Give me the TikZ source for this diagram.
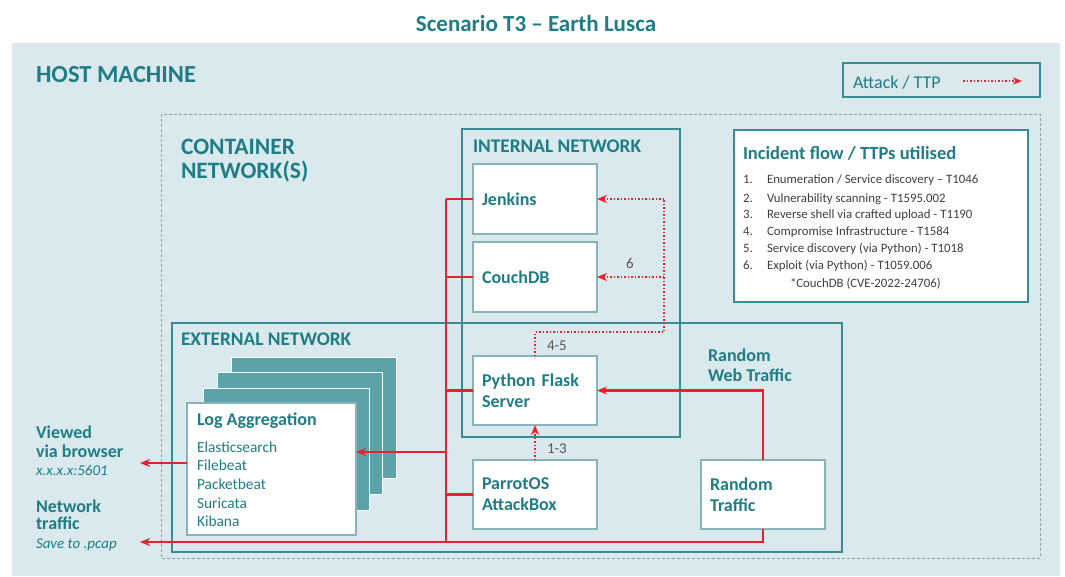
\documentclass[tikz,border=0pt]{standalone}
\usepackage{fontspec}
\setmainfont{Carlito}
\usetikzlibrary{arrows.meta,calc}
\definecolor{tealtxt}{HTML}{1F7D85}
\definecolor{tealline}{HTML}{3A8C93}
\definecolor{bgc}{HTML}{DAE9ED}
\definecolor{stackc}{HTML}{5BA3A9}
\definecolor{redc}{HTML}{E8222C}
\definecolor{dashc}{HTML}{8FA1A6}
\definecolor{boxline}{HTML}{88B4B9}
\definecolor{listc}{HTML}{3F3F3F}
\definecolor{numc}{HTML}{555555}
\begin{document}
\begin{tikzpicture}[x=1pt,y=-1pt,
  every node/.style={inner sep=0pt,outer sep=0pt},
  hbold/.style 2 args={text=tealtxt,font=\bfseries\fontsize{#1}{#2}\selectfont,anchor=base west,align=left},
  wbox/.style={draw=boxline,line width=1.2pt,fill=white,anchor=north west,
     text=tealtxt,font=\bfseries\fontsize{18}{21}\selectfont,align=left,
     inner xsep=9pt},
  netbox/.style={draw=tealline,line width=2.6pt},
  stackbox/.style={fill=stackc,draw=white,line width=0.8pt},
  redline/.style={draw=redc,line width=2.2pt},
  redarrow/.style={redline,-{Stealth[length=10pt,width=8pt,inset=3pt]}},
  dotarrow/.style={draw=redc,line width=1.5pt,dash pattern=on 1.5pt off 2pt,
     -{Stealth[length=10pt,width=8pt,inset=3pt]}},
  dotline/.style={draw=redc,line width=1.5pt,dash pattern=on 1.5pt off 2pt},
  listtxt/.style={text=listc,font=\fontsize{12.8}{16}\selectfont,anchor=base west},
  itemtxt/.style={text=tealtxt,font=\fontsize{15.4}{18}\selectfont,anchor=base west},
  numtxt/.style={text=numc,font=\fontsize{15}{18}\selectfont,anchor=base west}
]
\useasboundingbox (0,0) rectangle (1065,576);
% host background
\fill[bgc] (12,43) rectangle (1060,576);
\node[hbold={23}{27},anchor=base] (title) at (536,31) {Scenario T3 -- Earth Lusca};
\node[hbold={24.5}{27}] (host) at (36,82) {HOST MACHINE};

% legend
\node[draw=tealline,line width=1.6pt,anchor=north west,minimum width=197pt,minimum height=34pt] (legend) at (843,63) {};
\node[anchor=base west,text=tealtxt,font=\fontsize{18}{20}\selectfont] (legtxt) at (853,88) {Attack / TTP};
\coordinate (legA) at (963,81);
\coordinate (legB) at (1022,81);
\draw[dotarrow,-{Stealth[length=9pt,width=7pt,inset=2.5pt]}] (legA) -- (legB);

% container network (dashed)
\draw[dashc,line width=1pt,dash pattern=on 3pt off 2pt] (161,114) rectangle (1040,558);
\node[hbold={23.5}{27}] (cont1) at (181,154) {CONTAINER};
\node[hbold={23.5}{27}] (cont2) at (181,178) {NETWORK(S)};

% incident box
\node[draw=tealline,line width=1.6pt,fill=white,anchor=north west,minimum width=294pt,minimum height=172pt] (incident) at (734,130) {};
\node[hbold={18.5}{20}] (inch) at (743,159) {Incident flow / TTPs utilised};
\foreach \n/\t/\y in {1/{Enumeration / Service discovery -- T1046}/183,
                      2/{Vulnerability scanning - T1595.002}/202,
                      3/{Reverse shell via crafted upload - T1190}/218,
                      4/{Compromise Infrastructure - T1584}/235,
                      5/{Service discovery (via Python) - T1018}/252,
                      6/{Exploit (via Python) - T1059.006}/269}{
  \node[listtxt] (num\n) at (743,\y) {\n.};
  \node[listtxt] (item\n) at (767,\y) {\t};
}
\node[listtxt] (cve) at (790,287) {*CouchDB (CVE-2022-24706)};

% internal & external network
\draw[netbox] (462,129) rectangle (680,437);
\draw[netbox] (172,323) rectangle (842,552);
\node[hbold={19.3}{20}] (intl) at (473,152) {INTERNAL NETWORK};
\node[hbold={19.3}{20}] (extl) at (181,345) {EXTERNAL NETWORK};
\node[hbold={18}{20}] (rweb) at (708,381) {Random\\Web Traffic};

% boxes
\node[wbox,minimum width=124pt,minimum height=70pt,text width=106pt] (jenkins) at (473,164) {Jenkins};
\node[wbox,minimum width=124pt,minimum height=70pt,text width=106pt] (couch) at (473,242) {CouchDB};
\node[wbox,minimum width=124pt,minimum height=69pt,text width=106pt] (python) at (473,356) {Python Flask\\Server};
\node[wbox,minimum width=124pt,minimum height=69pt,text width=106pt] (parrot) at (473,460) {ParrotOS\\AttackBox};
\node[wbox,minimum width=124pt,minimum height=69pt,text width=106pt] (random) at (701,460) {Random\\Traffic};

% log aggregation stack
\draw[stackbox] (231,357) rectangle (396,478);
\draw[stackbox] (217,372) rectangle (382,494);
\draw[stackbox] (203,388) rectangle (369,510);
\node[draw=boxline,line width=1.2pt,fill=white,anchor=north west,minimum width=169pt,minimum height=132pt] (log) at (187,403) {};
\node[hbold={18}{20}] (logt) at (197,425) {Log Aggregation};
\node[itemtxt] (i1) at (197,452) {Elasticsearch};
\node[itemtxt] (i2) at (197,470) {Filebeat};
\node[itemtxt] (i3) at (197,489) {Packetbeat};
\node[itemtxt] (i4) at (197,508) {Suricata};
\node[itemtxt] (i5) at (197,526) {Kibana};

% left labels
\node[hbold={18}{19}] (viewed) at (36,457) {Viewed\\via browser};
\node[anchor=base west,text=tealtxt,font=\itshape\fontsize{15}{18}\selectfont] (vaddr) at (36,475) {x.x.x.x:5601};
\node[hbold={18}{17}] (nett) at (36,529) {Network\\traffic};
\node[anchor=base west,text=tealtxt,font=\itshape\fontsize{15}{18}\selectfont] (pcap) at (36,548) {Save to .pcap};
\coordinate (viewEnd) at (140,463);
\coordinate (pcapEnd) at (140,542);

% red bus
\coordinate (busTop) at (446,199);
\coordinate (busBot) at (446,542);
\draw[redline] (busTop) -- (busBot);
\draw[redline] (busTop) -- (jenkins.west |- busTop);
\draw[redline] (couch.west -| busTop) -- (couch.west);
\draw[redline] (python.west -| busTop) -- (python.west);
\draw[redline] (parrot.west -| busTop) -- (parrot.west);
\coordinate (logIn) at (356,452);
\draw[redarrow] (logIn -| busTop) -- (logIn);
\draw[redarrow] (log.west |- viewEnd) -- (viewEnd);
\draw[redarrow] (random.south) |- (pcapEnd);
\draw[redarrow] (random.north) |- (python.east);

% attack flow (dotted)
\coordinate (dCorner) at (664,332);
\draw[dotarrow] (parrot.north) -- (python.south);
\draw[dotline] (python.north) |- (dCorner) -- (dCorner |- jenkins.east);
\draw[dotarrow] (dCorner |- jenkins.east) -- (jenkins.east);
\draw[dotarrow] (dCorner |- couch.east) -- (couch.east);
\node[numtxt] (n6) at (626,268) {6};
\node[numtxt] (n45) at (547,350) {4-5};
\node[numtxt] (n13) at (547,453) {1-3};
\end{tikzpicture}
\end{document}
